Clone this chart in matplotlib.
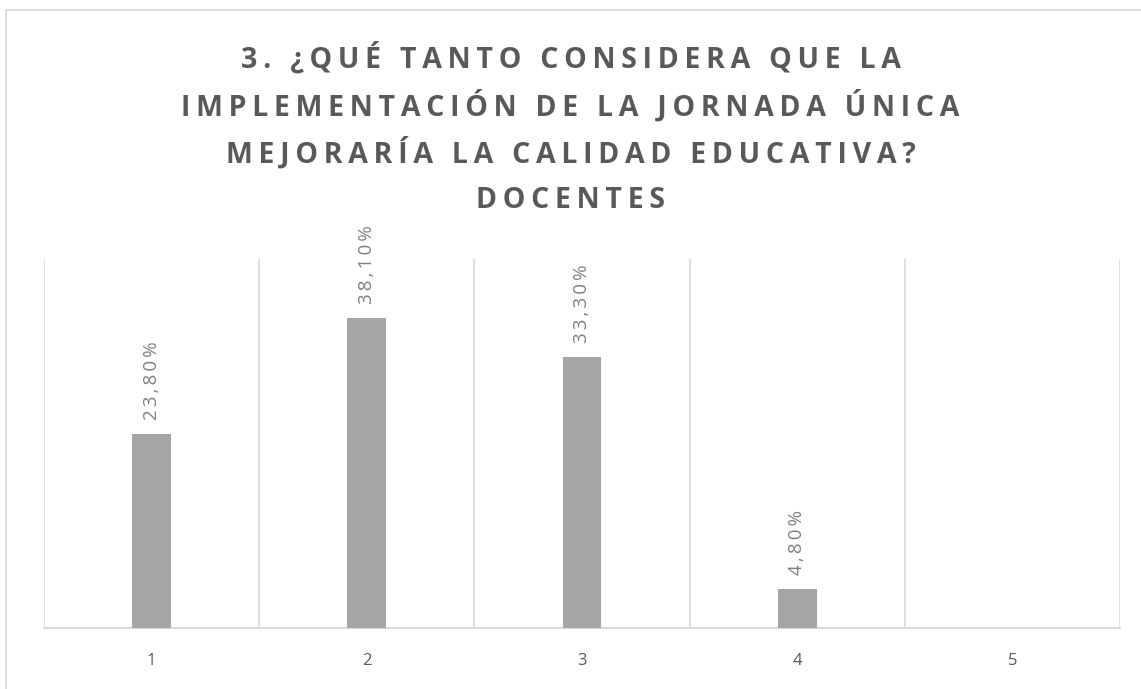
import numpy as np
import matplotlib.pyplot as plt

categories = ["1", "2", "3", "4", "5"]
values = [23.8, 38.1, 33.3, 4.8, 0.0]
value_labels = ["23,80%", "38,10%", "33,30%", "4,80%", ""]
title_lines = ["3. ¿QUÉ TANTO CONSIDERA QUE LA",
               "IMPLEMENTACIÓN DE LA JORNADA ÚNICA",
               "MEJORARÍA LA CALIDAD EDUCATIVA?",
               "DOCENTES"]


def spaced(s):
    # widen letter spacing with thin spaces
    return "\u2009".join(s)


def main():
    plt.rcParams["font.family"] = ["Open Sans", "DejaVu Sans"]
    fig = plt.figure(figsize=(11.41, 6.89), dpi=100)

    # light border round the chart area
    fig.patches.append(plt.Rectangle((0.005, -0.01), 1.2, 0.996, transform=fig.transFigure,
                                     fill=False, edgecolor="#D9D9D9", linewidth=1.2))

    ax = fig.add_axes([0.0386, 0.0885, 0.9430, 0.5355])
    x = np.arange(len(categories))
    ax.bar(x, values, width=0.18, color="#A5A5A5", zorder=3)

    for xi, v, lab in zip(x, values, value_labels):
        if lab:
            ax.annotate(spaced(lab), (xi, v), xytext=(0, 10), textcoords="offset points",
                        rotation=90, ha="center", va="bottom", fontsize=13.5,
                        color="#7F7F7F")

    ax.set_xlim(-0.5, len(categories) - 0.5)
    ax.set_ylim(0, 45.3)
    ax.set_xticks(x)
    ax.set_xticklabels(categories, fontsize=12, color="#595959")
    ax.set_yticks([])
    ax.tick_params(axis="x", length=0, pad=18)

    # vertical separators between categories
    for b in np.arange(-0.5, len(categories), 1.0):
        ax.axvline(b, color="#D9D9D9", linewidth=1.2, zorder=1)

    for s in ["top", "right", "left"]:
        ax.spines[s].set_visible(False)
    ax.spines["bottom"].set_color("#D9D9D9")
    ax.spines["bottom"].set_linewidth(1.5)

    line_y = [58, 106, 153, 200]  # pixel rows from top
    for line, py in zip(title_lines, line_y):
        fig.text(0.5, 1 - py / 689, spaced(line), ha="center", va="center", fontsize=20.5,
                 fontweight="bold", color="#595959")

    fig.savefig("out.png", dpi=100)


if __name__ == "__main__":
    main()
